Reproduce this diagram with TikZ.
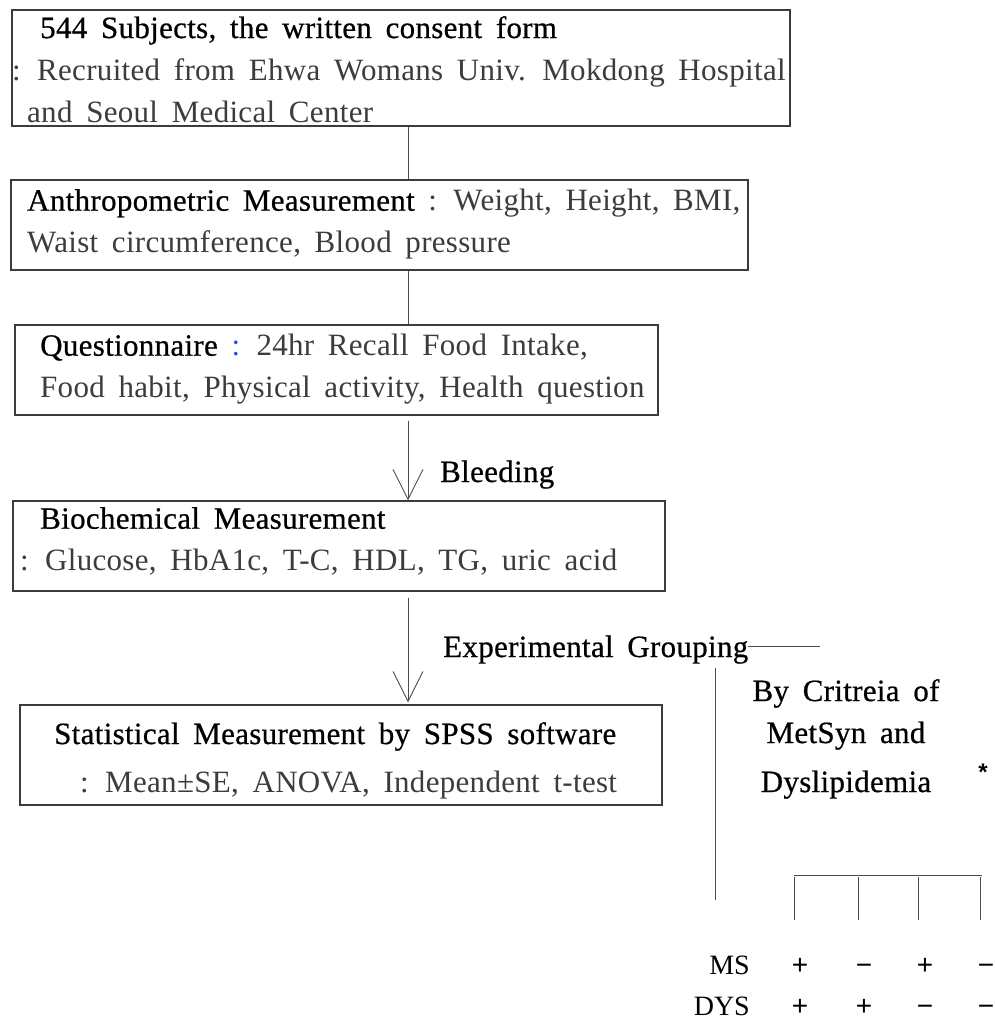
\documentclass[tikz,border=0pt]{standalone}
\usepackage{fontspec}
\usepackage{tikz}
\usetikzlibrary{arrows.meta, positioning}
\newfontfamily\flowfont{Liberation Serif}[LetterSpace=1, WordSpace=1.7]
\newfontfamily\headfont{Liberation Serif}[LetterSpace=1, WordSpace=1.7, FakeBold=0.6]
\newfontfamily\tagfont{Liberation Serif}
\newfontfamily\signfont{Liberation Sans}
\definecolor{detailgray}{RGB}{60,60,60}
\definecolor{colonblue}{RGB}{40,70,230}
\definecolor{framegray}{RGB}{60,60,60}
\newcommand{\hd}[1]{{\headfont\color{black}#1}}
\newcommand{\dt}[1]{\textcolor{detailgray}{#1}}

\begin{document}
\begin{tikzpicture}[x=1pt, y=-1pt,
    box/.style={draw=framegray, line width=1.1pt, inner sep=0pt},
    txt/.style={anchor=north west, inner sep=0pt, align=left, font=\flowfont\fontsize{31}{42}\selectfont},
    link/.style={draw=black!70, line width=0.9pt},
    flow/.style={link, -{Straight Barb[length=30pt, width=30pt]}},
    sign/.style={font=\signfont\fontsize{28}{28}\selectfont, inner sep=0pt, anchor=base},
    rowtag/.style={font=\tagfont\fontsize{28}{28}\selectfont, inner sep=0pt, anchor=base east}]
    \useasboundingbox (0,0) rectangle (995,1021);

    % boxes
    \node[box, minimum width=778pt, minimum height=116pt] (subj) at (401,68) {};
    \node[box, minimum width=737pt, minimum height=90pt] (anthro) at (379.5,225) {};
    \node[box, minimum width=643pt, minimum height=90pt] (quest) at (336.5,370) {};
    \node[box, minimum width=652pt, minimum height=90pt] (bio) at (339,546) {};
    \node[box, minimum width=642pt, minimum height=100pt] (stat) at (341,755) {};

    % box texts
    \node[txt] (subjtxt) at (12,16) {\hspace*{28pt}\hd{544 Subjects, the written consent form}\\
        \dt{: Recruited from Ehwa Womans Univ. Mokdong Hospital}\\
        \hspace*{15pt}\dt{and Seoul Medical Center}};
    \node[txt] (anthrotxt) at (27,189) {\hd{Anthropometric Measurement} \dt{: Weight, Height, BMI,}\\
        \dt{Waist circumference, Blood pressure}};
    \node[txt] (questtxt) at (40,334) {\hd{Questionnaire} \textcolor{colonblue}{:} \dt{24hr Recall Food Intake,}\\
        \dt{Food habit, Physical activity, Health question}};
    \node[txt] (biotxt) at (20,507) {\hspace*{20pt}\hd{Biochemical Measurement}\\
        \dt{: Glucose, HbA1c, T-C, HDL, TG, uric acid}};
    \node[txt, font=\flowfont\fontsize{31}{48}\selectfont] (stattxt) at (54,722) {\hd{Statistical Measurement by SPSS software}\\
        \hspace*{26pt}\dt{: Mean±SE, ANOVA, Independent t-test}};

    % connectors
    \coordinate (spine) at (408,0);
    \draw[link] (spine |- subj.south) -- (spine |- anthro.north);
    \draw[link] (spine |- anthro.south) -- (spine |- quest.north);
    \draw[flow, shorten <=5pt] (spine |- quest.south) -- (spine |- bio.north);
    \draw[flow, shorten <=6pt, shorten >=2pt] (spine |- bio.south) -- (spine |- stat.north);
    \node[txt, anchor=base west] (bleed) at (440,482) {\hd{Bleeding}};

    % grouping
    \node[txt, anchor=base west] (group) at (443,657) {\hd{Experimental Grouping}};
    \coordinate (groupend) at (820,646);
    \draw[link] (group.east |- groupend) -- (groupend);
    \node[txt, anchor=north, align=center, font=\headfont\fontsize{31}{42}\selectfont] (crit) at (846,679) {By Critreia of\\ MetSyn and\\[7pt] Dyslipidemia};
    \node[sign, font=\signfont\bfseries\fontsize{24}{24}\selectfont] (critstar) at (983,780) {*};
    \coordinate (grouptop) at (715,668);
    \coordinate (groupbot) at (715,900);
    \draw[link] (grouptop) -- (groupbot);

    % bracket of the four groups
    \coordinate (brleft) at (794,875);
    \coordinate (brright) at (982,875);
    \draw[link] (brleft) -- (brright);
    \node[rowtag] (msrow) at (750,974) {MS};
    \node[rowtag] (dysrow) at (750,1015) {DYS};
    \foreach \x/\sx/\ms/\dys [count=\i] in {794/800/+/+, 858/864/−/+, 918/925/+/−, 980/986/−/−} {
        \node[sign] (ms\i) at (\sx,974) {\ms};
        \node[sign] (dys\i) at (\sx,1015) {\dys};
        \coordinate (tick\i) at (\x,877);
        \draw[link] (tick\i) -- ++(0,43);
    }
\end{tikzpicture}
\end{document}
